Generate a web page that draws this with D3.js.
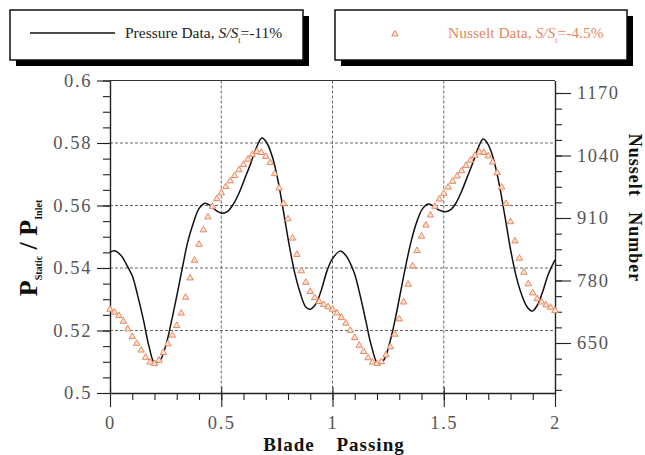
<!DOCTYPE html>
<html>
<head>
<meta charset="utf-8">
<script src="https://cdn.jsdelivr.net/npm/d3@7"></script>
<style>
  html, body { margin: 0; padding: 0; background: #fff; }
  svg { display: block; }
  text { font-family: "Liberation Serif", "Times New Roman", serif; }
</style>
</head>
<body>
<svg id="chart" width="645" height="455"></svg>
<script>
// Static pressure ratio (left axis) against blade passing
const pressureX = [0.000, 0.020, 0.050, 0.075, 0.100, 0.125, 0.150, 0.175, 0.200, 0.225, 0.250, 0.275, 0.300, 0.325, 0.350, 0.375, 0.400, 0.427, 0.450, 0.475, 0.505, 0.530, 0.555, 0.580, 0.605, 0.630, 0.655, 0.683, 0.705, 0.730, 0.755, 0.780, 0.805, 0.830, 0.855, 0.880, 0.900, 0.925, 0.950, 0.975, 1.000,
                   1.035, 1.060, 1.080, 1.100, 1.125, 1.150, 1.175, 1.205, 1.230, 1.255, 1.280, 1.305, 1.330, 1.355, 1.380, 1.405, 1.430, 1.455, 1.480, 1.506, 1.530, 1.555, 1.580, 1.605, 1.630, 1.655, 1.677, 1.700, 1.725, 1.750, 1.775, 1.800, 1.825, 1.850, 1.875, 1.897, 1.920, 1.945, 1.970, 2.000];
const pressureY = [0.5450, 0.5455, 0.5440, 0.5410, 0.5375, 0.5310, 0.5235, 0.5150, 0.5097, 0.5105, 0.5150, 0.5225, 0.5310, 0.5400, 0.5485, 0.5545, 0.5590, 0.5607, 0.5600, 0.5585, 0.5575, 0.5582, 0.5605, 0.5640, 0.5685, 0.5730, 0.5780, 0.5816, 0.5800, 0.5755, 0.5680, 0.5580, 0.5475, 0.5385, 0.5320, 0.5275, 0.5268, 0.5285, 0.5330, 0.5390, 0.5430,
                   0.5454, 0.5440, 0.5415, 0.5380, 0.5310, 0.5230, 0.5150, 0.5093, 0.5105, 0.5155, 0.5230, 0.5320, 0.5410, 0.5490, 0.5550, 0.5590, 0.5605, 0.5598, 0.5585, 0.5580, 0.5586, 0.5608, 0.5645, 0.5690, 0.5735, 0.5785, 0.5813, 0.5795, 0.5745, 0.5665, 0.5565, 0.5460, 0.5375, 0.5315, 0.5275, 0.5262, 0.5280, 0.5325, 0.5380, 0.5426];

// Nusselt number (right axis), one sample every 0.02 blade passing
const nusseltX = d3.range(101).map(i => +(i * 0.02).toFixed(2));
const nusseltY = [720, 714, 707, 695, 679, 663, 649, 635, 620, 610, 607, 614, 630, 648, 666, 686, 712, 745, 785, 822, 855, 885, 912, 934, 950, 962, 975, 987, 998, 1010, 1021, 1032, 1042, 1048, 1046, 1038, 1025, 1002, 972, 940, 908, 868, 834, 800, 776, 757, 744, 736, 730, 725,
                  720, 712, 703, 691, 676, 661, 645, 632, 619, 610, 607, 611, 625, 642, 668, 700, 735, 772, 810, 842, 872, 895, 916, 934, 949, 961, 974, 986, 997, 1008, 1019, 1030, 1040, 1047, 1046, 1039, 1026, 1004, 974, 940, 902, 862, 826, 797, 773, 754, 742, 735, 729, 724, 717];

const xTicks = [0, 0.5, 1, 1.5, 2];
const xTickLabels = ["0", "0.5", "1", "1.5", "2"];
const leftTicks = [0.5, 0.52, 0.54, 0.56, 0.58, 0.6];
const leftTickLabels = ["0.5", "0.52", "0.54", "0.56", "0.58", "0.6"];
const rightTicks = [650, 780, 910, 1040, 1170];
const rightTickLabels = ["650", "780", "910", "1040", "1170"];

const svg = d3.select("#chart");
const L = 110, R = 555, T = 80.5, B = 393;
const orange = "#e8875e";
const labelGrey = "#555";

const x = d3.scaleLinear().domain([0, 2]).range([L, R]);
const yP = d3.scaleLinear().domain([0.5, 0.6]).range([B, T]);
const yN = d3.scaleLinear().domain([546, 1196]).range([B, T]);

// dashed grid
const grid = svg.append("g").attr("stroke", "#555").attr("stroke-width", 0.9).attr("stroke-dasharray", "3,2");
[0.5, 1, 1.5].forEach(v => grid.append("line").attr("x1", x(v)).attr("x2", x(v)).attr("y1", T).attr("y2", B));
[0.52, 0.54, 0.56, 0.58].forEach(v => grid.append("line").attr("x1", L).attr("x2", R).attr("y1", yP(v)).attr("y2", yP(v)));

// frame top
svg.append("line").attr("x1", L).attr("x2", R).attr("y1", T).attr("y2", T).attr("stroke", "#333").attr("stroke-width", 1.2);

function styleAxis(g) {
  g.select(".domain").attr("stroke", "#222").attr("stroke-width", 1.4);
  g.selectAll(".tick line").attr("stroke", "#222").attr("stroke-width", 1.1);
  g.selectAll("text").attr("font-size", 18.5).attr("fill", labelGrey).attr("letter-spacing", "1.6px");
}
function minorStyle(g) {
  g.select(".domain").remove();
  g.selectAll(".tick line").attr("stroke", "#222").attr("stroke-width", 1.1);
}

// minor ticks
svg.append("g").attr("transform", `translate(0,${B})`)
  .call(d3.axisBottom(x).tickValues(d3.range(0, 2.001, 0.1)).tickSize(7).tickFormat("").tickSizeOuter(0))
  .call(minorStyle);
svg.append("g").attr("transform", `translate(${L},0)`)
  .call(d3.axisLeft(yP).tickValues(d3.range(0.5, 0.6001, 0.005)).tickSize(7).tickFormat("").tickSizeOuter(0))
  .call(minorStyle);
svg.append("g").attr("transform", `translate(${R},0)`)
  .call(d3.axisRight(yN).tickValues(d3.range(552.5, 1196, 32.5)).tickSize(7).tickFormat("").tickSizeOuter(0))
  .call(minorStyle);

// major ticks and labels
svg.append("g").attr("transform", `translate(0,${B})`)
  .call(d3.axisBottom(x).tickValues(xTicks).tickSize(14).tickPadding(9).tickSizeOuter(0).tickFormat((d, i) => xTickLabels[i]))
  .call(styleAxis)
  .call(g => g.selectAll(".tick line").attr("y1", -6));
svg.append("g").attr("transform", `translate(${L},0)`)
  .call(d3.axisLeft(yP).tickValues(leftTicks).tickSize(13).tickPadding(5).tickSizeOuter(0).tickFormat((d, i) => leftTickLabels[i]))
  .call(styleAxis);
svg.append("g").attr("transform", `translate(${R},0)`)
  .call(d3.axisRight(yN).tickValues(rightTicks).tickSize(16).tickPadding(6).tickSizeOuter(0).tickFormat((d, i) => rightTickLabels[i]))
  .call(styleAxis);

// pressure trace
const pressure = pressureX.map((v, i) => [v, pressureY[i]]);
svg.append("path").datum(pressure)
  .attr("fill", "none").attr("stroke", "#111").attr("stroke-width", 1.5)
  .attr("d", d3.line().x(d => x(d[0])).y(d => yP(d[1])).curve(d3.curveCatmullRom.alpha(0.5)));

// Nusselt markers
const tri = d3.symbol().type(d3.symbolTriangle).size(18);
svg.append("g").selectAll("path").data(nusseltX.map((v, i) => [v, nusseltY[i]])).join("path")
  .attr("transform", d => `translate(${x(d[0])},${yN(d[1])})`)
  .attr("d", tri).attr("fill", "#fbe3d6").attr("stroke", orange).attr("stroke-width", 1);

// axis titles
svg.append("text").attr("x", 334).attr("y", 451).attr("text-anchor", "middle")
  .attr("font-size", 19).attr("font-weight", "bold").attr("fill", "#111").attr("word-spacing", "16px").attr("letter-spacing", "1px")
  .text("Blade Passing");

const yl = svg.append("text").attr("transform", "translate(37,248) rotate(-90)").attr("text-anchor", "middle")
  .attr("font-weight", "bold").attr("fill", "#111");
yl.append("tspan").attr("font-size", 26).text("P");
yl.append("tspan").attr("font-size", 10).attr("dy", 5).text("Static");
yl.append("tspan").attr("font-size", 26).attr("dy", -5).text(" / P");
yl.append("tspan").attr("font-size", 10).attr("dy", 5).text("Inlet");

svg.append("text").attr("transform", "translate(629,208) rotate(90)").attr("text-anchor", "middle")
  .attr("font-size", 18).attr("font-weight", "bold").attr("fill", "#111").attr("word-spacing", "10px").attr("letter-spacing", "1px")
  .text("Nusselt Number");

// legend boxes with drop shadow
function legendBox(x0, y0, w, h) {
  const g = svg.append("g");
  g.append("rect").attr("x", x0 + 6).attr("y", y0 + 6).attr("width", w).attr("height", h).attr("fill", "#000");
  g.append("rect").attr("x", x0).attr("y", y0).attr("width", w).attr("height", h).attr("fill", "#fff").attr("stroke", "#111").attr("stroke-width", 1.5);
  return g;
}
const lg1 = legendBox(10, 10, 293, 50);
lg1.append("line").attr("x1", 30).attr("x2", 115).attr("y1", 33).attr("y2", 33).attr("stroke", "#111").attr("stroke-width", 1.3);
const t1 = lg1.append("text").attr("x", 125).attr("y", 37.5).attr("font-size", 15.5).attr("fill", "#222");
t1.append("tspan").text("Pressure Data, ");
t1.append("tspan").attr("font-style", "italic").text("S/S");
t1.append("tspan").attr("font-size", 8).attr("dy", 5).text("t");
t1.append("tspan").attr("dy", -5).text("=-11%");

const lg2 = legendBox(335, 10, 292, 50);
lg2.append("path").attr("transform", "translate(395,34)").attr("d", tri).attr("fill", "#fbe3d6").attr("stroke", orange);
const t2 = lg2.append("text").attr("x", 448).attr("y", 37.5).attr("font-size", 15.5).attr("fill", orange);
t2.append("tspan").text("Nusselt Data, ");
t2.append("tspan").attr("font-style", "italic").text("S/S");
t2.append("tspan").attr("font-size", 8).attr("dy", 5).text("t");
t2.append("tspan").attr("dy", -5).text("=-4.5%");
</script>
</body>
</html>
